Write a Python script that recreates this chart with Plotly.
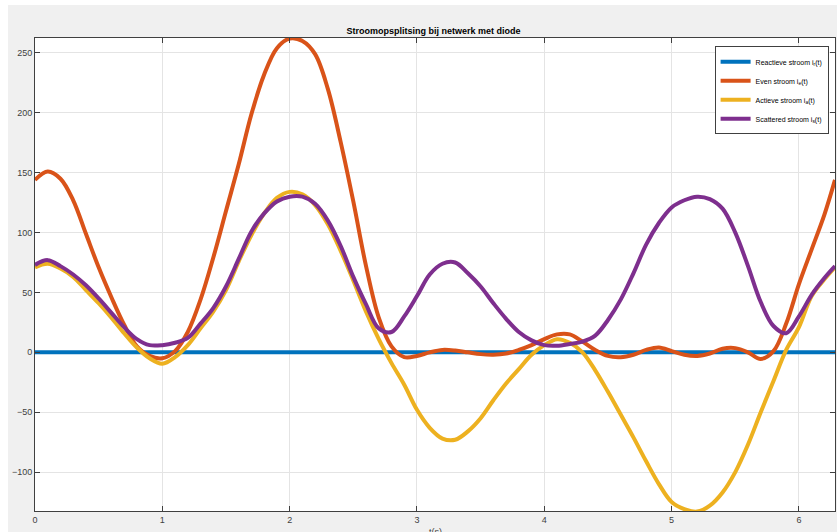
import plotly.graph_objects as go

# time samples (s)
t = [0.0, 0.1, 0.2, 0.3, 0.4, 0.5, 0.6, 0.7, 0.8, 0.9,
     1.0, 1.1, 1.2, 1.3, 1.4, 1.5, 1.6, 1.7, 1.8, 1.9,
     2.0, 2.1, 2.2, 2.3, 2.4, 2.5, 2.6, 2.7, 2.8, 2.9,
     3.0, 3.1, 3.2, 3.3, 3.4, 3.5, 3.6, 3.7, 3.8, 3.9,
     4.0, 4.1, 4.2, 4.3, 4.4, 4.5, 4.6, 4.7, 4.8, 4.9,
     5.0, 5.1, 5.2, 5.3, 5.4, 5.5, 5.6, 5.7, 5.8, 5.9,
     6.0, 6.1, 6.2, 6.2832]

reactive = [0] * len(t)

even = [144, 151, 145, 127, 99, 71, 46, 23, 5, -3,
        -5, 1, 17, 44, 79, 118, 157, 199, 232, 254,
        262, 260, 249, 220, 176, 126, 72, 29, 5, -4,
        -3, 0, 2, 1.5, 0, -1.5, -2, -1, 2, 6,
        11, 15, 15, 9, 2, -3, -4, -2, 2, 4,
        1, -2, -3, -1, 3, 3.5, 0, -5.5, 1, 24,
        57, 86, 115, 144]

active = [71, 74, 70, 63, 52, 41, 29, 16, 4, -5,
          -9.5, -4, 6, 20, 34, 52, 76, 98, 116, 129,
          134, 132, 123, 107, 85, 60, 34, 11, -9, -27,
          -48, -63, -72, -73, -66, -55, -40, -26, -14, -2,
          6, 11, 8, 0, -15, -33, -52, -71, -91, -110,
          -125, -131, -133, -128, -117, -100, -77, -50, -24, 2,
          21, 47, 61, 71]

scattered = [73, 77, 72, 65, 56, 45, 33, 21, 11, 6,
             6, 8, 12, 24, 37, 55, 78, 101, 116, 126,
             130, 130, 124, 110, 89, 63, 40, 20, 17, 30,
             47, 65, 74, 75, 66, 55, 41, 28, 17, 10,
             6, 5.5, 7, 9, 14, 27, 44, 66, 90, 108,
             121, 127, 130, 128, 120, 100, 72, 42, 22, 16,
             30, 48, 62, 72]

names = ["Reactieve stroom i<sub>r</sub>(t)",
         "Even stroom i<sub>e</sub>(t)",
         "Actieve stroom i<sub>a</sub>(t)",
         "Scattered stroom i<sub>s</sub>(t)"]
colors = ["#0072BD", "#D95319", "#EDB120", "#7E2F8E"]
series = [reactive, even, active, scattered]

FONT = "Liberation Sans, Arial, sans-serif"

fig = go.Figure()
for name, col, ys in zip(names, colors, series):
    fig.add_trace(go.Scatter(x=t, y=ys, mode="lines", name=name,
                             line=dict(color=col, width=4, shape="spline", smoothing=1)))

axis_common = dict(showline=True, linecolor="#404040", linewidth=1, mirror="all",
                   ticks="inside", ticklen=5, tickcolor="#404040", automargin=False,
                   showgrid=True, gridcolor="#e4e4e4", gridwidth=1, zeroline=False,
                   tickfont=dict(family=FONT, size=9, color="#404040"))

fig.update_xaxes(range=[0, 6.2832], tickvals=[0, 1, 2, 3, 4, 5, 6], **axis_common)
fig.update_yaxes(range=[-132.5, 262.5], tickvals=[-100, -50, 0, 50, 100, 150, 200, 250],
                 **axis_common)

# x-axis label (partly cut by the bottom edge, as in the original)
fig.add_annotation(text="t(s)", xref="paper", yref="paper", x=0.5, y=0,
                   xanchor="center", yanchor="top", yshift=-14, showarrow=False,
                   font=dict(family=FONT, size=9, color="#404040"))

fig.update_layout(
    width=829, height=527,
    margin=dict(l=26.5, r=1.5, t=32.7, b=20.5, autoexpand=False),
    paper_bgcolor="#f0f0f0", plot_bgcolor="#ffffff",
    title=dict(text="<b>Stroomopsplitsing bij netwerk met diode</b>",
               xref="container", x=(433.5 - 8) / 829, xanchor="center",
               yref="container", y=1 - (30.5 - 5) / 527, yanchor="middle",
               font=dict(family=FONT, size=9, color="#000000")),
    legend=dict(x=0.992, xanchor="right", y=0.9825, yanchor="top",
                bgcolor="#ffffff", bordercolor="#404040", borderwidth=1,
                font=dict(family=FONT, size=7, color="#000000"),
                tracegroupgap=0, itemwidth=30),
    showlegend=True,
)

fig.write_html(
    "out.html",
    post_script="document.documentElement.style.overflow='hidden';"
                "document.body.style.overflow='hidden';"
                "document.body.style.margin='5px 0 0 8px';"
                "document.body.style.background='#ffffff';",
)
